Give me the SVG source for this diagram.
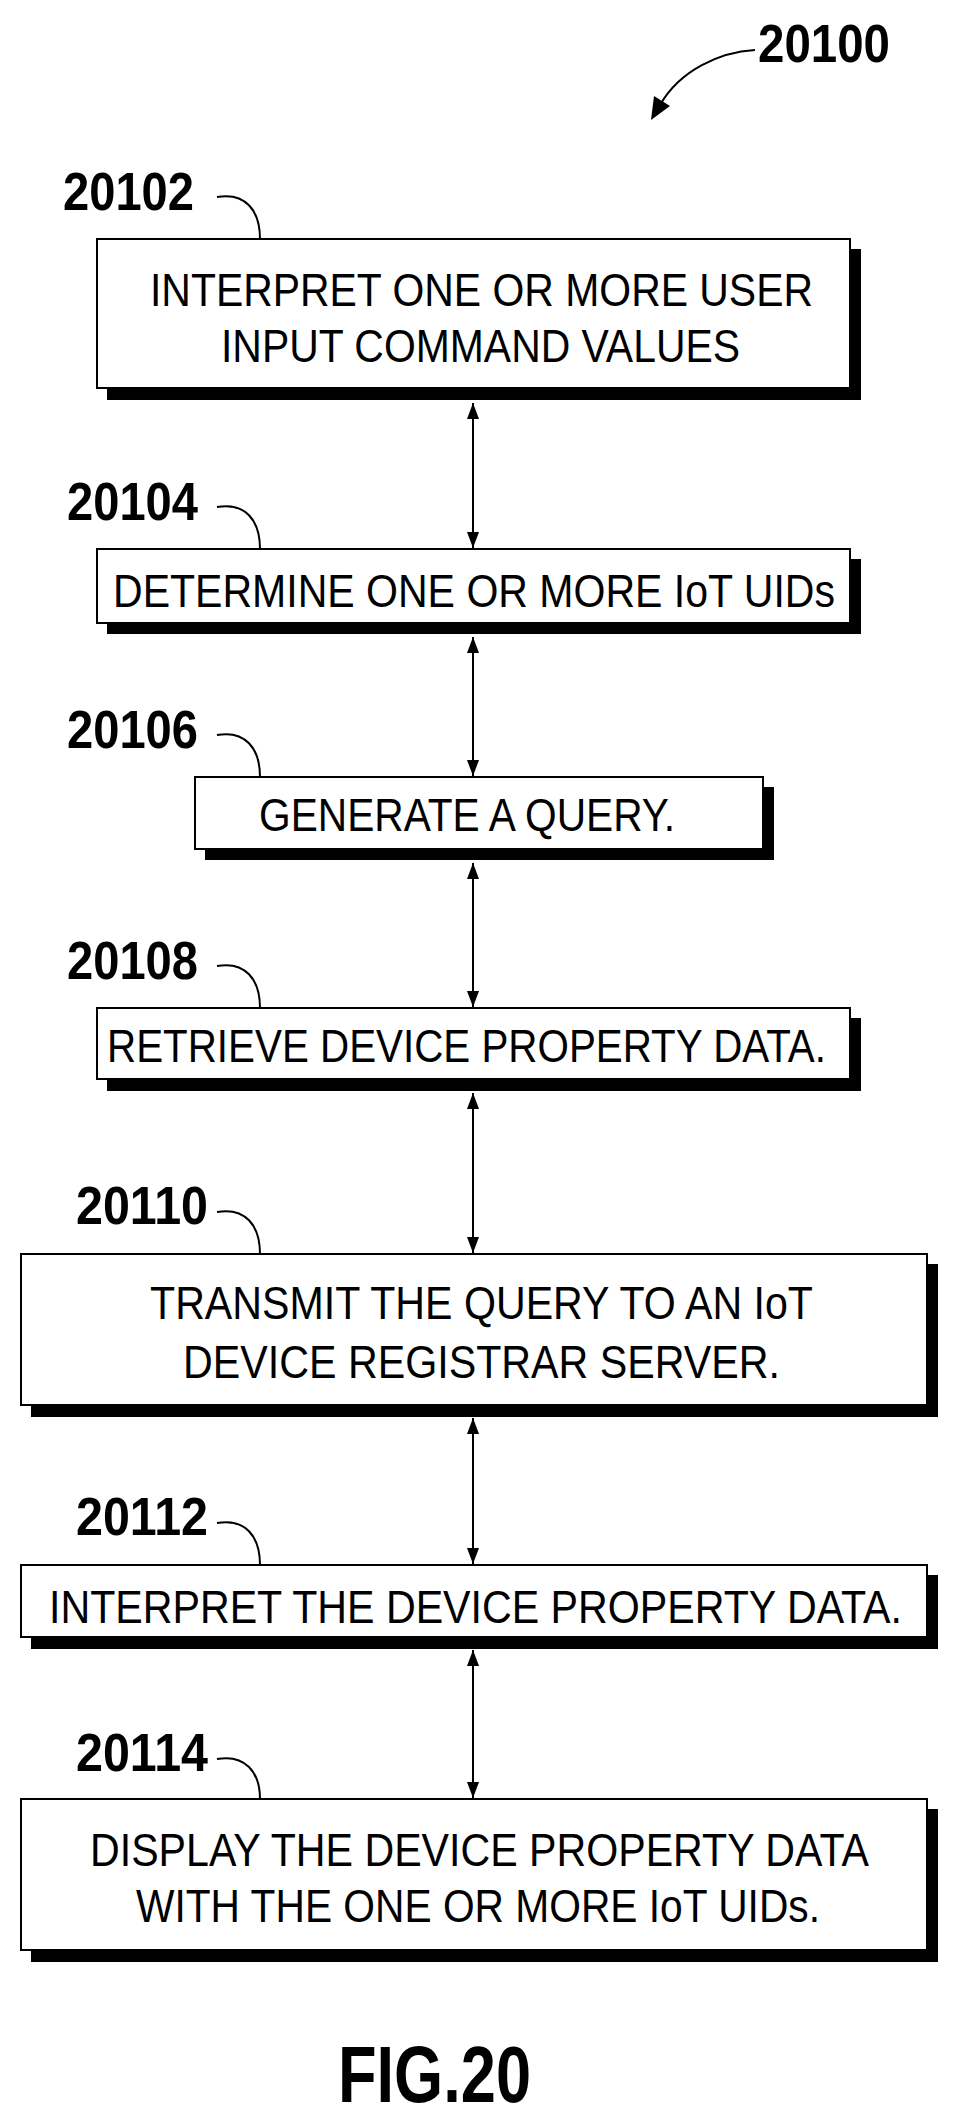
<svg xmlns="http://www.w3.org/2000/svg" width="954" height="2127" viewBox="0 0 954 2127">
<style>
.box{fill:#fff;stroke:#000;stroke-width:2}
.sh{fill:#000}
.t{font-family:"Liberation Sans",Arial,sans-serif;font-size:47px;fill:#000}
.lb{font-family:"Liberation Sans",Arial,sans-serif;font-size:54px;font-weight:bold;fill:#000}
.ld{fill:none;stroke:#000;stroke-width:2}
.c{stroke:#000;stroke-width:2;marker-start:url(#a);marker-end:url(#a)}
</style>
<defs>
<marker id="a" viewBox="0 0 16 12" refX="16" refY="6" markerWidth="16" markerHeight="12" markerUnits="userSpaceOnUse" orient="auto-start-reverse">
<path d="M0,0 L16,6 L0,12 Z" fill="#000"/>
</marker>
</defs>
<rect width="954" height="2127" fill="#fff"/>
<g id="title">
<text class="lb" x="758" y="62" textLength="132" lengthAdjust="spacingAndGlyphs">20100</text>
<path class="ld" d="M755,50 C720,52 680,70 660,105" stroke-width="3"/>
<path d="M651,120 L654,96 L670,106 Z" fill="#000"/>
</g>
<g id="n20102">
<rect class="sh" x="107" y="249" width="754" height="151"/>
<rect class="box" x="97" y="239" width="753" height="149"/>
<text class="t" x="150" y="306" textLength="663" lengthAdjust="spacingAndGlyphs">INTERPRET ONE OR MORE USER</text>
<text class="t" x="221" y="362" textLength="519" lengthAdjust="spacingAndGlyphs">INPUT COMMAND VALUES</text>
<text class="lb" x="63" y="210" textLength="131" lengthAdjust="spacingAndGlyphs">20102</text>
<path class="ld" d="M217,197 C245,192 260,210 260,239"/>
</g>
<g id="n20104">
<rect class="sh" x="107" y="559" width="754" height="75"/>
<rect class="box" x="97" y="549" width="753" height="74"/>
<text class="t" x="113" y="607" textLength="722" lengthAdjust="spacingAndGlyphs">DETERMINE ONE OR MORE IoT UIDs</text>
<text class="lb" x="67" y="520" textLength="131" lengthAdjust="spacingAndGlyphs">20104</text>
<path class="ld" d="M217,507 C245,502 260,520 260,549"/>
</g>
<g id="n20106">
<rect class="sh" x="205" y="787" width="569" height="73"/>
<rect class="box" x="195" y="777" width="568" height="72"/>
<text class="t" x="259" y="831" textLength="416" lengthAdjust="spacingAndGlyphs">GENERATE A QUERY.</text>
<text class="lb" x="67" y="748" textLength="131" lengthAdjust="spacingAndGlyphs">20106</text>
<path class="ld" d="M217,735 C245,730 260,748 260,777"/>
</g>
<g id="n20108">
<rect class="sh" x="107" y="1018" width="754" height="73"/>
<rect class="box" x="97" y="1008" width="753" height="71"/>
<text class="t" x="107" y="1062" textLength="719" lengthAdjust="spacingAndGlyphs">RETRIEVE DEVICE PROPERTY DATA.</text>
<text class="lb" x="67" y="979" textLength="131" lengthAdjust="spacingAndGlyphs">20108</text>
<path class="ld" d="M217,966 C245,961 260,979 260,1008"/>
</g>
<g id="n20110">
<rect class="sh" x="31" y="1264" width="907" height="153"/>
<rect class="box" x="21" y="1254" width="906" height="151"/>
<text class="t" x="150" y="1319" textLength="663" lengthAdjust="spacingAndGlyphs">TRANSMIT THE QUERY TO AN IoT</text>
<text class="t" x="183" y="1378" textLength="597" lengthAdjust="spacingAndGlyphs">DEVICE REGISTRAR SERVER.</text>
<text class="lb" x="76" y="1224" textLength="132" lengthAdjust="spacingAndGlyphs">20110</text>
<path class="ld" d="M217,1212 C245,1207 260,1225 260,1254"/>
</g>
<g id="n20112">
<rect class="sh" x="31" y="1575" width="907" height="74"/>
<rect class="box" x="21" y="1565" width="906" height="72"/>
<text class="t" x="49" y="1623" textLength="853" lengthAdjust="spacingAndGlyphs">INTERPRET THE DEVICE PROPERTY DATA.</text>
<text class="lb" x="76" y="1535" textLength="132" lengthAdjust="spacingAndGlyphs">20112</text>
<path class="ld" d="M217,1523 C245,1518 260,1536 260,1565"/>
</g>
<g id="n20114">
<rect class="sh" x="31" y="1809" width="907" height="153"/>
<rect class="box" x="21" y="1799" width="906" height="151"/>
<text class="t" x="90" y="1866" textLength="779" lengthAdjust="spacingAndGlyphs">DISPLAY THE DEVICE PROPERTY DATA</text>
<text class="t" x="136" y="1922" textLength="684" lengthAdjust="spacingAndGlyphs">WITH THE ONE OR MORE IoT UIDs.</text>
<text class="lb" x="76" y="1771" textLength="132" lengthAdjust="spacingAndGlyphs">20114</text>
<path class="ld" d="M217,1759 C245,1754 260,1772 260,1799"/>
</g>
<g id="connectors">
<line class="c" x1="473" y1="403" x2="473" y2="548"/>
<line class="c" x1="473" y1="637" x2="473" y2="776"/>
<line class="c" x1="473" y1="863" x2="473" y2="1007"/>
<line class="c" x1="473" y1="1093" x2="473" y2="1253"/>
<line class="c" x1="473" y1="1418" x2="473" y2="1564"/>
<line class="c" x1="473" y1="1650" x2="473" y2="1798"/>
</g>
<text class="lb" x="338" y="2102" font-size="80" textLength="193" lengthAdjust="spacingAndGlyphs" style="font-size:80px">FIG.20</text>
</svg>
